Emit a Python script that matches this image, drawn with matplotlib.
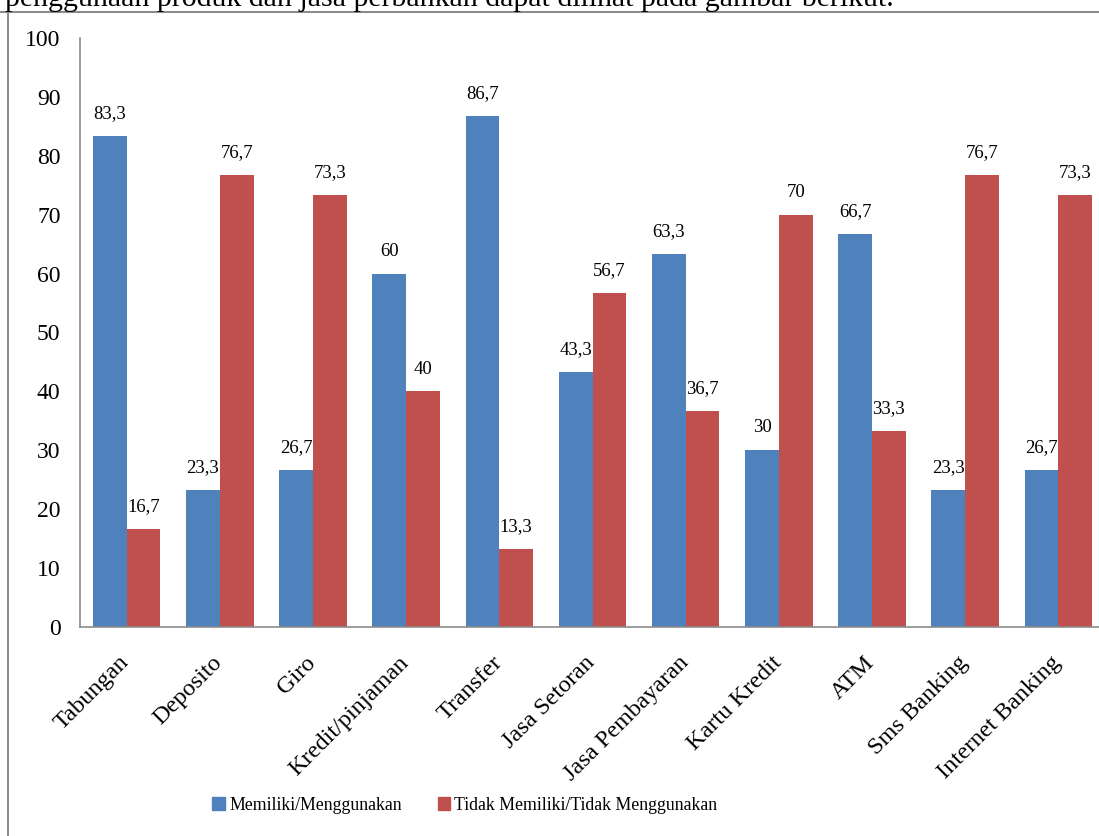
import numpy as np
import matplotlib.pyplot as plt
import matplotlib.transforms as mtransforms
from matplotlib.lines import Line2D
from matplotlib.patches import Patch

plt.rcParams['font.family'] = ['Liberation Serif', 'DejaVu Serif']

# Data
categories = ['Tabungan', 'Deposito', 'Giro', 'Kredit/pinjaman', 'Transfer',
              'Jasa Setoran', 'Jasa Pembayaran', 'Kartu Kredit', 'ATM',
              'Sms Banking', 'Internet Banking']
memiliki = [83.3, 23.3, 26.7, 60, 86.7, 43.3, 63.3, 30, 66.7, 23.3, 26.7]
tidak = [16.7, 76.7, 73.3, 40, 13.3, 56.7, 36.7, 70, 33.3, 76.7, 73.3]
series_names = ['Memiliki/Menggunakan', 'Tidak Memiliki/Tidak Menggunakan']
yticks = [0, 10, 20, 30, 40, 50, 60, 70, 80, 90, 100]

blue = '#4F81BD'
red = '#C0504D'
grey = '#8c8c8c'

W, H = 1099, 836
fig = plt.figure(figsize=(W / 100, H / 100), dpi=100)

# axes: left spine x=80, right ~1105, y 0 at 627, 100 at 38
ax = fig.add_axes([80 / W, 1 - 627 / H, (1105 - 80) / W, (627 - 38) / H])

x = np.arange(len(categories))
bw = 0.362
b1 = ax.bar(x - bw / 2, memiliki, bw, color=blue, label=series_names[0])
b2 = ax.bar(x + bw / 2, tidak, bw, color=red, label=series_names[1])

def fmt(v):
    s = ('%.1f' % v).replace('.', ',')
    return s[:-2] if s.endswith(',0') else s

for bars, vals in ((b1, memiliki), (b2, tidak)):
    for rect, v in zip(bars, vals):
        ax.annotate(fmt(v), (rect.get_x() + rect.get_width() / 2, v),
                    xytext=(0, 10), textcoords='offset points',
                    ha='center', va='bottom', fontsize=13.5)

ax.set_xlim(-0.5, len(categories) - 0.5)
ax.set_ylim(0, 100)
ax.set_yticks(yticks)
ax.set_xticks(x)
ax.set_xticklabels(categories, rotation=45, ha='right', fontsize=17.5)
ax.tick_params(axis='both', length=0)
ax.tick_params(axis='y', pad=14, labelsize=17)
ax.tick_params(axis='x', pad=18)
shift = mtransforms.ScaledTranslation(7 / 100, 0, fig.dpi_scale_trans)
for lab in ax.get_xticklabels():
    lab.set_transform(lab.get_transform() + shift)
for side in ('top', 'right'):
    ax.spines[side].set_visible(False)
for side in ('left', 'bottom'):
    ax.spines[side].set_color(grey)
    ax.spines[side].set_linewidth(1.2)

handles = [Patch(color=blue), Patch(color=red)]
fig.legend(handles, series_names, loc='center', bbox_to_anchor=(465 / W, 1 - 805 / H),
           ncol=2, frameon=False, fontsize=12.8, handlelength=0.7, handleheight=0.7,
           handletextpad=0.25, columnspacing=2.0)

# page frame and cut-off sentence above the chart
fig.add_artist(Line2D([0, 1], [1 - 12 / H, 1 - 12 / H], color=grey, lw=1.5))
fig.add_artist(Line2D([8 / W, 8 / W], [0, 1 - 12 / H], color=grey, lw=1.5))
fig.text(5 / W, 1 - 6 / H, 'penggunaan produk dan jasa perbankan dapat dilihat pada gambar berikut.',
         fontsize=21.5, va='baseline', ha='left')

fig.savefig('out.png', dpi=100)
